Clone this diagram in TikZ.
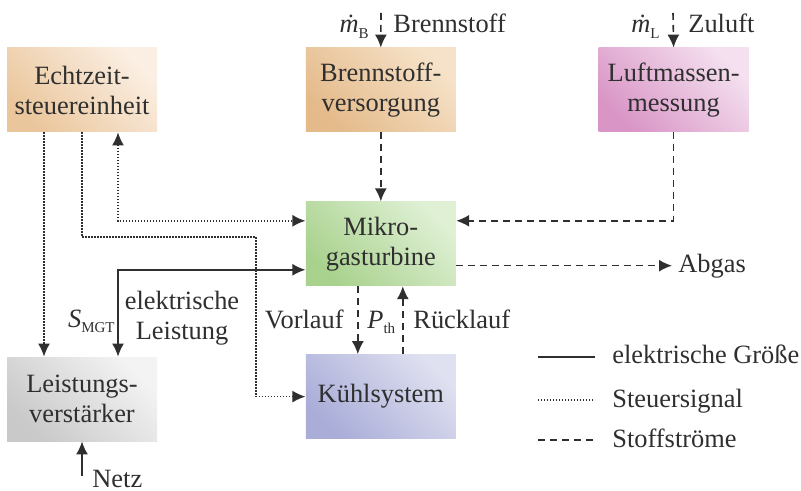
\documentclass[tikz,border=0pt]{standalone}
\usepackage{fontspec}
\setmainfont{Liberation Serif}
\usetikzlibrary{positioning,calc,arrows.meta}
\definecolor{inkgray}{HTML}{2F2F2F}
\definecolor{ezdark}{HTML}{EAC69C}\definecolor{ezlight}{HTML}{FBEFE3}
\definecolor{bsdark}{HTML}{E4BA8A}\definecolor{bslight}{HTML}{F6E2C8}
\definecolor{lmdark}{HTML}{D995C6}\definecolor{lmlight}{HTML}{F4E0EF}
\definecolor{mgdark}{HTML}{A9D28E}\definecolor{mglight}{HTML}{DFF0D4}
\definecolor{ksdark}{HTML}{A9ADD8}\definecolor{kslight}{HTML}{DFE0F0}
\definecolor{lvdark}{HTML}{C9C9C9}\definecolor{lvlight}{HTML}{F3F3F3}
\newcommand{\subtxt}[1]{\raisebox{-0.45ex}{\fontsize{7.5}{8}\selectfont #1}}
\tikzset{
  block/.style={minimum width=75pt, minimum height=42pt, inner sep=0pt,
    align=center, text=inkgray, font=\fontsize{13.2}{15}\selectfont,
    top color=#1light, bottom color=#1dark, shading angle=-45},
  lbl/.style={inner sep=0pt, text=inkgray, font=\fontsize{13.2}{15}\selectfont},
  elec/.style={draw=inkgray, line width=0.8pt},
  sig/.style={draw=inkgray, line width=0.8pt, dash pattern=on 0.7pt off 0.8pt},
  stoff/.style={draw=inkgray, line width=0.8pt, dash pattern=on 3.5pt off 2.5pt},
}

\begin{document}
\begin{tikzpicture}[x=0.5pt, y=-0.5pt, >={Latex[length=6.5pt,width=6pt]}]
	\useasboundingbox (0,0) rectangle (801,491);

	\node[block=ez] (echtzeit) at (82,90) {Echtzeit-\\steuereinheit};
	\node[block=bs, right=74pt of echtzeit] (brenn) {Brennstoff-\\versorgung};
	\node[block=lm, right=71pt of brenn] (luft) {Luftmassen-\\messung};
	\node[block=mg, below=34.5pt of brenn] (mgt) {Mikro-\\gasturbine};
	\node[block=ks, below=34pt of mgt] (kuehl) {Kühlsystem};
	\node[block=lv] (leist) at (82,399) {Leistungs-\\verstärker};

	\coordinate (brennIn) at (381,13);
	\coordinate (luftIn) at (673,13);
	\coordinate (netzIn) at (82,476);

	\node[lbl, anchor=base east] (mB) at (369,33) {\itshape ṁ\subtxt{\upshape B}};
	\node[lbl, anchor=base west] (brennTxt) at (393,33) {Brennstoff};
	\node[lbl, anchor=base east] (mL) at (660,33) {\itshape ṁ\subtxt{\upshape L}};
	\node[lbl, anchor=base west] (zuluft) at (688,33) {Zuluft};
	\node[lbl, anchor=base west, inner xsep=3pt] (abgas) at (672,272) {Abgas};
	\node[lbl, anchor=base east] (smgt) at (115,327) {\itshape S\subtxt{\upshape MGT}};
	\node[lbl, align=center] (elLeist) at (182,318) {elektrische\\Leistung};
	\node[lbl, anchor=base east] (vorlauf) at (344,328) {Vorlauf};
	\node[lbl, anchor=base west] (pth) at (367,328) {\itshape P\subtxt{\upshape th}};
	\node[lbl, anchor=base west] (ruecklauf) at (413,328) {Rücklauf};
	\node[lbl, anchor=base west] (netz) at (92,487) {Netz};

	\draw[stoff,->] (brennIn) -- (brenn.north);
	\draw[stoff,->] (luftIn) -- (luft.north);
	\draw[stoff,->] (brenn.south) -- (mgt.north);
	\draw[stoff,->] (luft.south) |- ($(mgt.east)+(0,-23)$);
	\draw[stoff,->] (mgt.east |- abgas.west) -- (abgas.west);
	\draw[stoff,->] ($(mgt.south)+(-23,0)$) -- ($(kuehl.north)+(-23,0)$);
	\draw[stoff,->] ($(kuehl.north)+(22,0)$) -- ($(mgt.south)+(22,0)$);

	\draw[sig,<->] ($(echtzeit.south)+(36,0)$) |- ($(mgt.west)+(0,-23)$);
	\draw[sig,->] (echtzeit.south) |- (256,237) |- (kuehl.west);
	\draw[sig,->] ($(echtzeit.south)+(-38,0)$) -- ($(leist.north)+(-38,0)$);

	\draw[elec,<->] ($(leist.north)+(36,0)$) |- ($(mgt.west)+(0,26)$);
	\draw[elec,->] (netzIn) -- (leist.south);

	\coordinate (leg1a) at (538,357); \coordinate (leg1b) at (595,357);
	\coordinate (leg2a) at (538,400); \coordinate (leg2b) at (595,400);
	\coordinate (leg3a) at (538,440); \coordinate (leg3b) at (595,440);
	\draw[elec] (leg1a) -- (leg1b);
	\draw[sig] (leg2a) -- (leg2b);
	\draw[stoff] (leg3a) -- (leg3b);
	\node[lbl, anchor=base west] (leg1) at (612,363) {elektrische Größe};
	\node[lbl, anchor=base west] (leg2) at (612,407) {Steuersignal};
	\node[lbl, anchor=base west] (leg3) at (612,447) {Stoffströme};
\end{tikzpicture}
\end{document}
